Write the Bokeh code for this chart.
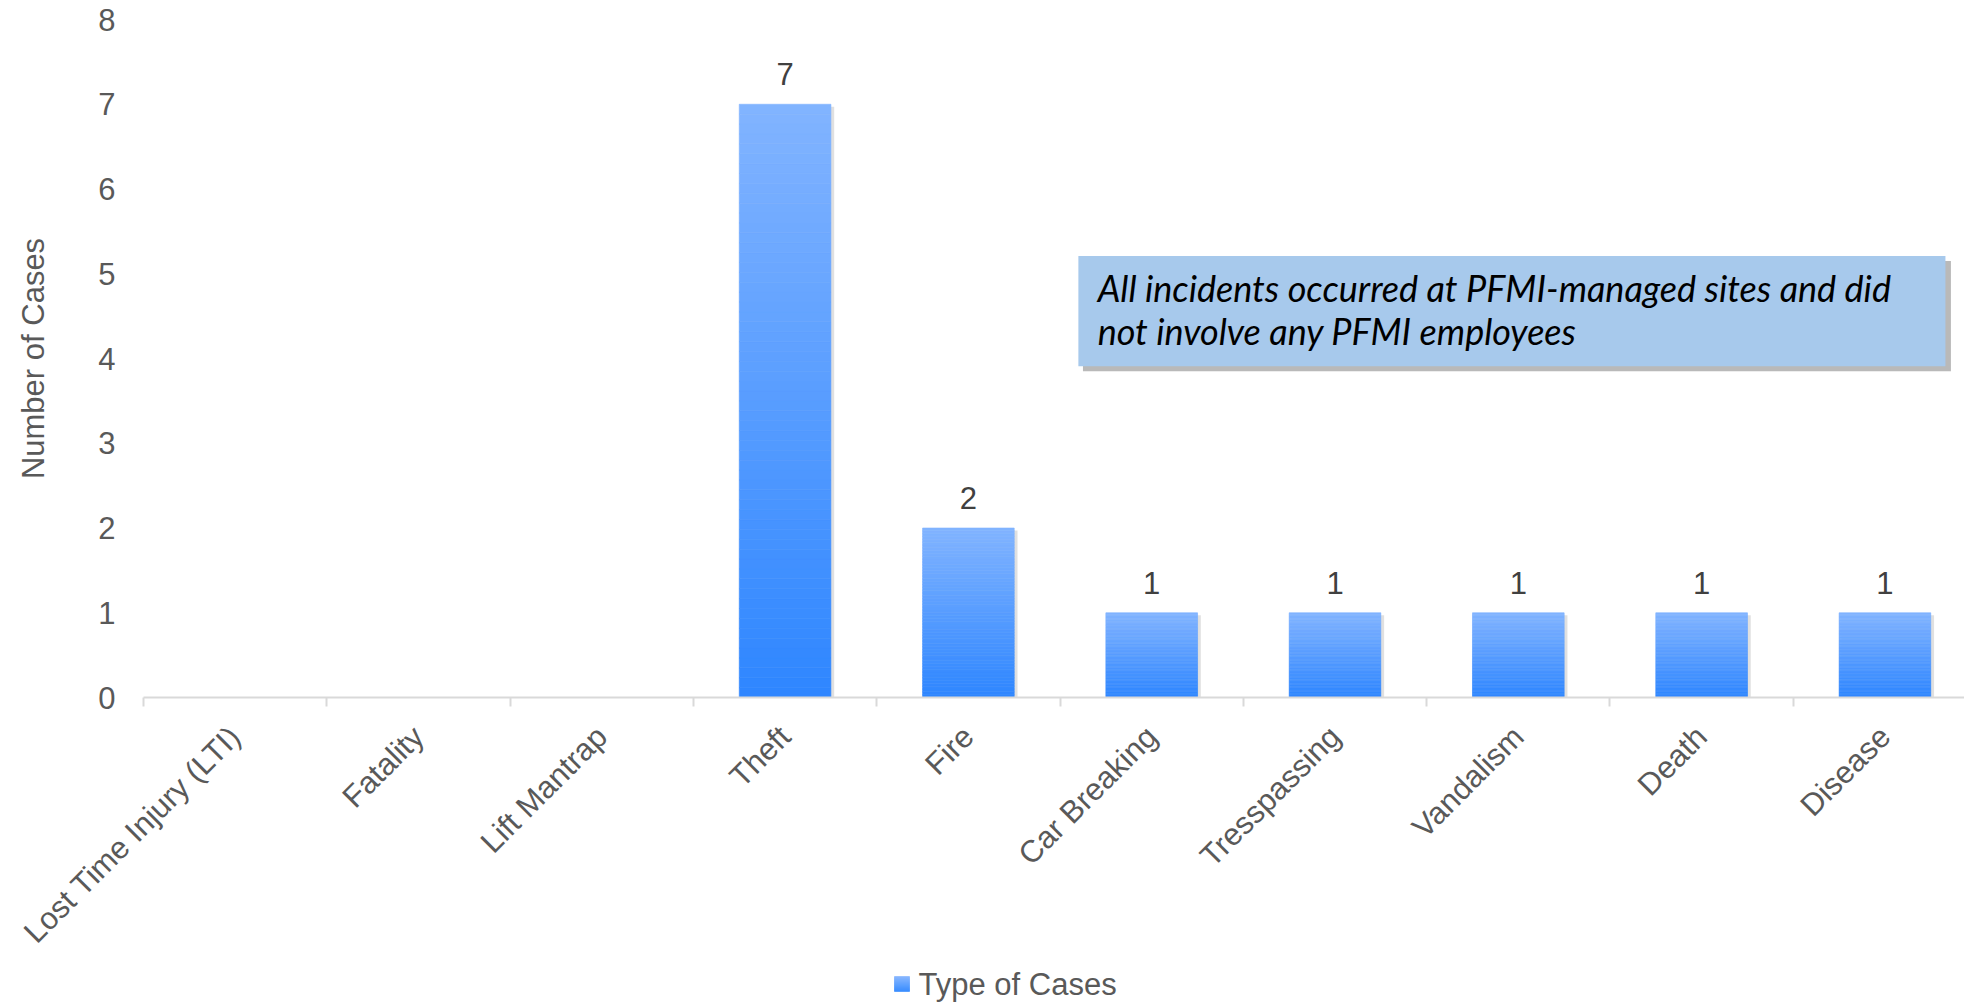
import numpy as np
from bokeh.plotting import figure
from bokeh.layouts import column
from bokeh.models import Range1d, FixedTicker, ColumnDataSource, Label, BoxAnnotation
from bokeh.core.properties import value
from bokeh.embed import file_html
from bokeh.resources import INLINE

# ---- data ----
categories = ["Lost Time Injury (LTI)", "Fatality", "Lift Mantrap", "Theft", "Fire",
              "Car Breaking", "Tresspassing", "Vandalism", "Death", "Disease"]
cases = [0, 0, 0, 7, 2, 1, 1, 1, 1, 1]
y_ticks = [0, 1, 2, 3, 4, 5, 6, 7, 8]
series_name = "Type of Cases"
y_title = "Number of Cases"
note_lines = ["All incidents occurred at PFMI-managed sites and did",
              "not involve any PFMI employees"]

FONT = "Liberation Sans"
TICK_COLOR = "#595959"
BOTTOM_RGB = np.array([46, 134, 255])
TOP_RGB = np.array([130, 180, 255])
BAR_WIDTH = 0.5
N_SLICES = 60

# page geometry (pixels)
W, H = 1964, 1003
FRAME_LEFT, FRAME_TOP, FRAME_BOTTOM = 143, 19, 700
LEGEND_H = 38
MAIN_H = H - LEGEND_H


def gradient_slices(x0, x1, y0, y1, n):
    """Split a rectangle into n horizontal bands shading from dark (bottom) to light (top)."""
    edges = np.linspace(y0, y1, n + 1)
    out = dict(left=[], right=[], bottom=[], top=[], color=[])
    for k in range(n):
        t = (k + 0.5) / n
        rgb = (BOTTOM_RGB + (TOP_RGB - BOTTOM_RGB) * t).round().astype(int)
        out["left"].append(x0)
        out["right"].append(x1)
        out["bottom"].append(edges[k])
        out["top"].append(edges[k + 1])
        out["color"].append("#%02x%02x%02x" % tuple(rgb))
    return out


def bare(fig):
    fig.outline_line_color = None
    fig.xgrid.visible = False
    fig.ygrid.visible = False


centers = [i + 0.5 for i in range(len(categories))]

# ---- main chart ----
p = figure(width=W, height=MAIN_H, output_backend="svg", toolbar_location=None,
           x_range=Range1d(0, 9.934), y_range=Range1d(0, 8),
           min_border_left=FRAME_LEFT, min_border_right=0,
           min_border_top=FRAME_TOP, min_border_bottom=MAIN_H - FRAME_BOTTOM)
bare(p)

# bars: vertical gradient built from horizontal slices, with a soft drop shadow
slices = dict(left=[], right=[], bottom=[], top=[], color=[])
sh_left, sh_right, sh_top = [], [], []
for c, v in zip(centers, cases):
    if v <= 0:
        continue
    sh_left.append(c - BAR_WIDTH / 2 + 0.012)
    sh_right.append(c + BAR_WIDTH / 2 + 0.018)
    sh_top.append(v - 0.03)
    part = gradient_slices(c - BAR_WIDTH / 2, c + BAR_WIDTH / 2, 0, v, N_SLICES)
    for key in slices:
        slices[key].extend(part[key])

p.quad(left=sh_left, right=sh_right, bottom=[0] * len(sh_top), top=sh_top,
       fill_color="black", fill_alpha=0.12, line_color=None)
p.quad(source=ColumnDataSource(slices), left="left", right="right", bottom="bottom",
       top="top", fill_color="color", line_color="color", line_width=0.6)

# value labels
lbl_x = [c for c, v in zip(centers, cases) if v > 0]
lbl_y = [v for v in cases if v > 0]
lbl_t = [str(v) for v in cases if v > 0]
p.text(x=lbl_x, y=lbl_y, text=lbl_t, text_align="center", text_baseline="alphabetic",
       y_offset=-30, text_font=value(FONT), text_font_size="31px", text_color="#404040")

# x axis: labels at category centres, tick marks on category boundaries
xa = p.xaxis[0]
xa.ticker = FixedTicker(ticks=centers, minor_ticks=list(range(len(categories) + 1)))
xa.major_label_overrides = {c: name for c, name in zip(centers, categories)}
xa.major_label_orientation = np.pi / 4
xa.major_tick_line_color = None
xa.major_tick_out = 0
xa.major_tick_in = 0
xa.minor_tick_line_color = "#d9d9d9"
xa.minor_tick_line_width = 2
xa.minor_tick_out = 9
xa.minor_tick_in = 0
xa.axis_line_color = "#d9d9d9"
xa.axis_line_width = 2
xa.major_label_standoff = 25
xa.major_label_text_font = FONT
xa.major_label_text_font_size = "31px"
xa.major_label_text_color = TICK_COLOR

ya = p.yaxis[0]
ya.ticker = FixedTicker(ticks=y_ticks, minor_ticks=[])
ya.axis_line_color = None
ya.major_tick_line_color = None
ya.major_tick_out = 0
ya.major_tick_in = 0
ya.minor_tick_line_color = None
ya.major_label_standoff = 28
ya.major_label_text_font = FONT
ya.major_label_text_font_size = "31px"
ya.major_label_text_color = TICK_COLOR
ya.axis_label = y_title
ya.axis_label_standoff = 44
ya.axis_label_text_font = FONT
ya.axis_label_text_font_size = "31px"
ya.axis_label_text_font_style = "normal"
ya.axis_label_text_color = TICK_COLOR

# note box with drop shadow
p.add_layout(BoxAnnotation(left=5.125, right=9.86, top=5.15, bottom=3.85,
                           fill_color="#7f7f7f", fill_alpha=0.55, line_color=None))
p.add_layout(BoxAnnotation(left=5.10, right=9.83, top=5.21, bottom=3.91,
                           fill_color="#a7c9ec", fill_alpha=1.0, line_color=None))
for txt, yy in zip(note_lines, [4.83, 4.324]):
    p.add_layout(Label(x=5.205, y=yy, text=txt, text_align="left", text_baseline="middle",
                       text_font="Lato", text_font_style="italic", text_font_size="36px",
                       text_color="black"))

# ---- legend strip (x in page pixels) ----
leg = figure(width=W, height=LEGEND_H, output_backend="svg", toolbar_location=None,
             x_range=Range1d(FRAME_LEFT, W), y_range=Range1d(0, LEGEND_H),
             min_border_left=FRAME_LEFT, min_border_right=0, min_border_top=0,
             min_border_bottom=0, x_axis_type=None, y_axis_type=None)
bare(leg)
swatch = gradient_slices(894, 909, 12, 27, 15)
leg.quad(source=ColumnDataSource(swatch), left="left", right="right", bottom="bottom",
         top="top", fill_color="color", line_color="color", line_width=0.6)
leg.text(x=[918], y=[19.5], text=[series_name], text_align="left", text_baseline="middle",
         text_font=value(FONT), text_font_size="31px", text_color=TICK_COLOR)

layout = column(p, leg, spacing=0)
open("out.html", "w").write(file_html(layout, INLINE))
